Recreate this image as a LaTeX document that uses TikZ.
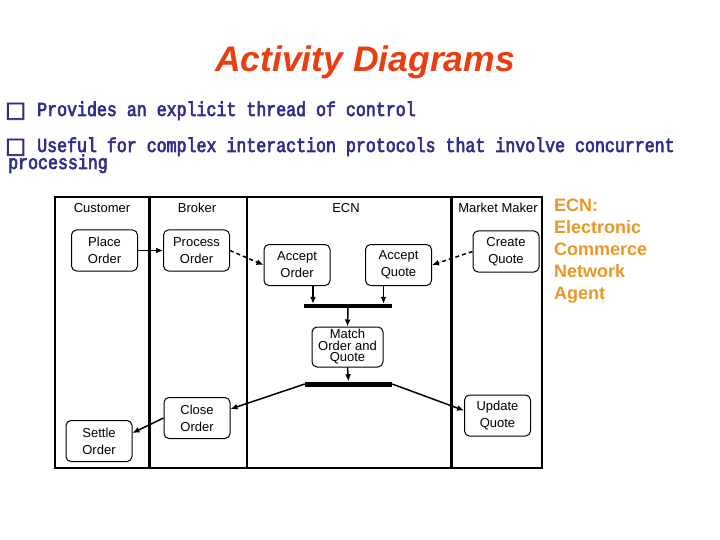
\documentclass[tikz,border=0pt]{standalone}
\usepackage{fontspec}
\usepackage{tikz}
\usepackage{xcolor}
\usetikzlibrary{arrows.meta}
\setmainfont{Liberation Sans}
\newfontfamily\gothic[FakeStretch=0.83, FakeBold=3]{Liberation Mono}
\newfontfamily\symfont[FakeBold=3]{DejaVu Sans}
\definecolor{titlered}{RGB}{232,62,18}
\definecolor{navy}{RGB}{46,46,140}
\definecolor{ecnorange}{RGB}{234,150,40}
\tikzset{
  act/.style={draw, line width=1pt, rounded corners=5pt, align=center,
    minimum width=66, minimum height=41, inner sep=1pt,
    font=\fontsize{13}{17}\selectfont},
  bar/.style={fill=black, inner sep=0pt, minimum height=5},
  arr/.style={line width=1.5pt, -{Latex[length=7pt,width=6pt]}},
  darr/.style={arr, dashed, dash pattern=on 4pt off 3pt},
  lane/.style={line width=3pt},
  hdr/.style={font=\fontsize{13}{15}\selectfont},
  bullet/.style={anchor=base west, inner sep=0pt, text=navy, font=\fontsize{22}{22}\selectfont\symfont},
  point/.style={anchor=base west, inner sep=0pt, text=navy, font=\fontsize{20}{20}\selectfont\gothic}
}
\begin{document}
\begin{tikzpicture}[x=1pt,y=-1pt]
  \useasboundingbox (0,0) rectangle (720,540);
  \node[anchor=base, text=titlered, font=\fontsize{35.5}{40}\selectfont\bfseries\itshape] (title) at (365,72) {Activity Diagrams};
  \node[bullet] (box1) at (5,117) {□};
  \node[point] (line1) at (37,116) {Provides an explicit thread of control};
  \node[bullet] (box2) at (5,153) {□};
  \node[point] (line2) at (37,152) {Useful for complex interaction protocols that involve concurrent};
  \node[point] (line3) at (8,169) {processing};

  \draw[line width=1.5pt] (55,197) rectangle (542,468);
  \draw[lane] (149,197) -- (149,468);
  \draw[line width=2pt] (247,197) -- (247,468);
  \draw[lane] (451,197) -- (451,468);
  \node[hdr] (customer) at (102,208) {Customer};
  \node[hdr] (broker) at (197,208) {Broker};
  \node[hdr] (ecn) at (346,208) {ECN};
  \node[hdr] (maker) at (498,208) {Market Maker};

  \node[act] (place) at (104.5,250.5) {Place\\Order};
  \node[act] (process) at (196.5,250.5) {Process\\Order};
  \node[act] (acceptorder) at (297,265) {Accept\\Order};
  \node[act] (acceptquote) at (398.5,265) {Accept\\Quote};
  \node[act] (create) at (506,251.5) {Create\\Quote};
  \node[bar, minimum width=88, minimum height=4] (fork) at (348,306) {};
  \node[act, minimum width=71, minimum height=40, font=\fontsize{13}{11.5}\selectfont] (match) at (347.5,347) {Match\\Order and\\Quote};
  \node[bar, minimum width=87] (join) at (348.5,384) {};
  \node[act] (update) at (497.5,415.5) {Update\\Quote};
  \node[act] (close) at (197,418) {Close\\Order};
  \node[act] (settle) at (99,441) {Settle\\Order};

  \draw[arr] (place) -- (process);
  \draw[darr] (process.east) -- (acceptorder.west);
  \draw[darr] (create.west) -- (acceptquote.east);
  \draw[arr] ([xshift=16]acceptorder.south) -- ([xshift=16]acceptorder.south |- fork.north);
  \draw[arr] ([xshift=-15]acceptquote.south) -- ([xshift=-15]acceptquote.south |- fork.north);
  \draw[arr] (fork.south) -- (match.north);
  \draw[arr] (match.south) -- (join.north);
  \draw[arr] (join.east) -- ([yshift=5]update.west);
  \draw[arr] (join.west) -- ([yshift=9]close.east);
  \draw[arr] (close.west) -- ([yshift=8]settle.east);

  \node[anchor=north west, inner sep=0pt, align=left, text=ecnorange, font=\fontsize{18}{22}\selectfont\bfseries] (ecnnote) at (554,199) {ECN:\\Electronic\\Commerce\\Network\\Agent};
\end{tikzpicture}
\end{document}
